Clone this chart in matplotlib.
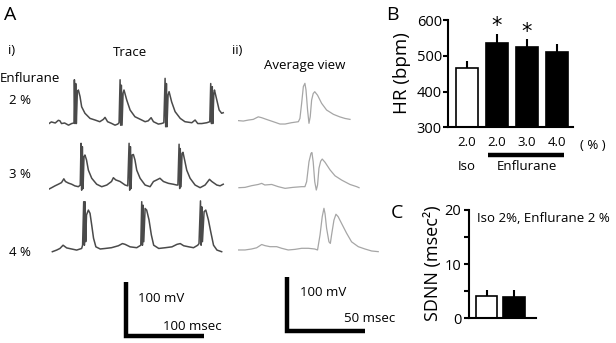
import numpy as np
import matplotlib
matplotlib.use("Agg")
import matplotlib.pyplot as plt
import matplotlib.transforms as mtransforms

plt.rcParams['font.family'] = ['Open Sans', 'DejaVu Sans']

# ---------------- data ----------------
# Panel A i) ECG traces: (time ms, voltage mV)
trace_2pct = [(0,-1),(3,2),(8,0),(12,5),(14,4),(16,-1),(20,0),(25,-4),(29,-1),(32,0),
              (32.5,80),(33.3,-1),(34.2,73),(35,-1),(36.3,58),(37.6,61),(39.7,49),(41.8,30),
              (46,18),(52.5,8.5),(59,5.5),(65,2.4),(69.6,6.7),(71.7,10.4),(75,2.4),(80,-0.7),
              (84.5,-4),(88,-2),(89.7,0.5),(91,80),(91.8,-4),(92.6,70),(93.5,-4),(94.8,55),
              (96,61),(99.5,42.5),(103.8,24),(110,11.6),(118.7,5.5),(123,2.4),(127,4),
              (130.7,9.8),(133.7,2.4),(140,-2),(144,-1),(147,0.5),(148.6,82.6),(149.4,-7),
              (150.3,73),(151,-7),(152.4,51.7),(153.7,58),(157,39),(161.4,21),(168,8.5),
              (174,2.4),(182.8,0.5),(187,5.5),(190.4,-1),(195.6,-1),(202,0.5),(205.8,2.4),
              (207,73),(208,-1),(209,67),(209.7,-1),(211,55),(211.8,61),(214.8,42.5),
              (217.8,24),(221,18),(223,19)]
trace_3pct = [(0,-2),(3.4,0.6),(7.7,4),(12,7),(16,10),(19,17),(21,12),(25,9),(29,7),(33,4),
              (37.6,2.4),(40,5.5),(41,82.7),(41.8,-4),(42.7,76.5),(43.6,-1),(44.8,58),(46,61),
              (48,52),(50.4,33),(54.7,18),(61,7),(67.5,2.4),(74,5.5),(80,12),(82.4,19),
              (85.4,15),(91,12),(97.4,5.5),(100.8,4),(102.5,82.7),(103.3,-4),(104.2,76.5),
              (105,-1),(106.3,61),(108,62),(110,52),(112.3,33),(116.6,18),(123,5.5),
              (129.4,2.4),(133.7,12),(138,15),(142,18),(146.5,12),(152.9,8.6),(159,7),
              (163.5,5.5),(165,5.5),(166.5,81),(167.3,-1),(168,73),(169,2.4),(170.3,64),
              (171.5,66),(174,49),(176.3,33),(180.6,18),(187,5.5),(193.4,0.6),(199.8,5.5),
              (205.4,16),(208.4,12),(214.8,5.5),(219,4),(223,7)]
trace_4pct = [(4.3,0),(9.8,3),(14,6),(18,12),(22.6,7),(29,5),(35.4,3),(41.8,6),(43,12),
              (44.4,92.5),(45.3,12),(46,92.5),(47,18.5),(48,68),(50.4,77),(52.5,71),(54.7,49),
              (57,25),(60,9),(65.6,5),(72,6),(80,7.4),(88.8,11),(94,15),(97.4,13.6),(103.8,9),
              (112.3,7.4),(117.5,12),(118.7,92.5),(119.6,12),(120.4,86),(121.3,18.5),(123,80),
              (125,77),(128,59),(131,31),(134,12),(140.5,6),(149,7.4),(157.4,9),(163.8,13.6),
              (168,15),(172.4,11),(179,9),(185,7.4),(190.4,12),(192,15),(193.9,94),(194.7,12),
              (195.6,83),(196.4,18.5),(198.5,74),(200.7,77),(204,59),(207,37),(210.6,12),
              (215,3),(221,0)]

# Panel A ii) averaged complexes: (time ms, voltage mV)
avg_2pct = [(0,2),(3.2,1.2),(6.4,3),(9.6,4.3),(12.8,9),(15,7.4),(18,4.3),(22.4,0),(26.7,-4.3),
            (30,-4.3),(34,-1.9),(38.5,0),(39.5,6),(40.6,34),(41.7,65),(42.7,71),(43.4,58.6),
            (44.4,21.6),(45.3,-3),(46.1,9),(47,40),(48,52),(49,55.5),(50.8,49),(53.4,34),
            (56.6,21.6),(61,13.6),(65,9),(68.4,6),(71.6,4.3)]
avg_3pct = [(0.4,0),(4.3,0.6),(8.5,3.7),(12.8,6),(15,8),(17,5),(21.4,6),(25.6,1.9),(30,-1.2),
            (35,0.6),(40.6,1.9),(42.7,1.9),(43.8,11),(45.3,48),(46.6,63.5),(47.2,65),(48,48),
            (49,11),(50,-4.3),(50.8,5),(51.7,36),(52.8,49),(53.8,53),(55.6,47),(58.8,33),
            (62,22),(66.3,14),(71.6,6),(75.9,1.9),(77.4,0)]
avg_4pct = [(0,1.9),(4.3,1.9),(8.5,3.7),(11.8,6),(15,12),(17,10),(20.3,8),(24.6,8),(27.8,5),
            (32,1.9),(36.3,3),(40.6,5),(44.9,5),(49,3.7),(50.8,1.9),(52.4,30),(53.8,63.5),
            (54.9,79),(55.6,69),(56.6,42),(58.1,17),(59,14),(59.8,30),(61.3,57),(62.6,68),
            (64,63.5),(66.2,51),(69.4,33),(72.6,17),(76.9,8),(81.2,3.7),(85.5,0),(89.7,-1.2)]

row_labels = ['2 %', '3 %', '4 %']

# Panel B: heart rate
hr_ticklabels = ['2.0', '2.0', '3.0', '4.0']
hr_mean = [465, 537, 525, 511]
hr_err = [21, 25, 21, 22]
hr_colors = ['white', 'black', 'black', 'black']
hr_sig = [False, True, True, False]

# Panel C: SDNN
sdnn_mean = [4.1, 3.8]
sdnn_err = [1.1, 1.3]
sdnn_colors = ['white', 'black']

# ---------------- layout ----------------
W, H = 616, 343
fig = plt.figure(figsize=(W / 100, H / 100), dpi=100)


def ax_px(left, top, width, height):
    return fig.add_axes([left / W, 1 - (top + height) / H, width / W, height / H])


def ftext(x, y, s, **kw):
    return fig.text(x / W, 1 - y / H, s, **kw)


MS_PX_TRACE = 1.28
MS_PX_AVG = 0.641
MV_PX = 1.85

trace_color = '#4a4a4a'
avg_color = '#a6a6a6'

for data, base in zip([trace_2pct, trace_3pct, trace_4pct], [123, 188, 251.7]):
    arr = np.array(data)
    ax = ax_px(49, base - 55, 180, 70)
    ax.plot(arr[:, 0], arr[:, 1], color=trace_color, lw=1.1)
    ax.set_xlim(0, 180 * MS_PX_TRACE)
    ax.set_ylim(-15 * MV_PX, 55 * MV_PX)
    ax.axis('off')

for data, base in zip([avg_2pct, avg_3pct, avg_4pct], [121.7, 187.7, 251]):
    arr = np.array(data)
    ax = ax_px(238.3, base - 55, 145, 70)
    ax.plot(arr[:, 0], arr[:, 1], color=avg_color, lw=0.9)
    ax.set_xlim(0, 145 * MS_PX_AVG)
    ax.set_ylim(-15 * MV_PX, 55 * MV_PX)
    ax.axis('off')

# scale bars
sb = ax_px(115, 270, 110, 75)
sb.set_xlim(0, 110 * MS_PX_TRACE)
sb.set_ylim(0, 75 * MV_PX)
t0, v0 = 10.5 * MS_PX_TRACE, 9 * MV_PX
sb.plot([t0, t0, t0 + 100], [v0 + 100, v0, v0], color='black', lw=3.2,
        solid_capstyle='butt', solid_joinstyle='miter')
sb.axis('off')

sb2 = ax_px(276, 270, 110, 75)
sb2.set_xlim(0, 110 * MS_PX_AVG)
sb2.set_ylim(0, 75 * MV_PX)
t0, v0 = 10.5 * MS_PX_AVG, 13.7 * MV_PX
sb2.plot([t0, t0, t0 + 50], [v0 + 100, v0, v0], color='black', lw=3.2,
         solid_capstyle='butt', solid_joinstyle='miter')
sb2.axis('off')

# panel A texts
fs = 9.5
ftext(4, 15, 'A', fontsize=14, ha='left', va='center')
ftext(8, 51, 'i)', fontsize=fs, ha='left', va='center')
ftext(130, 53, 'Trace', fontsize=fs, ha='center', va='center')
ftext(232, 51, 'ii)', fontsize=fs, ha='left', va='center')
ftext(305, 65, 'Average view', fontsize=fs, ha='center', va='center')
ftext(0, 78, 'Enflurane', fontsize=fs, ha='left', va='center')
for lab, y in zip(row_labels, [100, 175, 253]):
    ftext(20, y, lab, fontsize=fs, ha='center', va='center')
ftext(138, 298, '100 mV', fontsize=fs, ha='left', va='center')
ftext(222, 327, '100 msec', fontsize=fs, ha='right', va='center')
ftext(300, 293, '100 mV', fontsize=fs, ha='left', va='center')
ftext(344, 318, '50 msec', fontsize=fs, ha='left', va='center')

# ---------------- panel B ----------------
axB = ax_px(448, 20, 125, 107.3)
xB = np.arange(len(hr_mean))
axB.bar(xB, hr_mean, width=0.73, color=hr_colors, edgecolor='black', linewidth=1.2, zorder=2)
axB.errorbar(xB, hr_mean, yerr=[np.zeros(len(hr_err)), hr_err], fmt='none',
             ecolor='black', elinewidth=1.5, capsize=0, zorder=1)
for xi, m, e, s in zip(xB, hr_mean, hr_err, hr_sig):
    if s:
        axB.text(xi, m + e - 8, '*', fontsize=15, ha='center', va='bottom',
                 family='DejaVu Sans')
axB.set_xlim(-0.62, 3.53)
axB.set_ylim(300, 600)
axB.set_yticks([300, 400, 500, 600])
axB.tick_params(axis='y', labelsize=10.5, length=3.5, width=1.5, pad=1)
axB.set_xticks(xB)
axB.set_xticklabels(hr_ticklabels, fontsize=9.5)
axB.tick_params(axis='x', length=0, pad=6)
for sp in ['top', 'right']:
    axB.spines[sp].set_visible(False)
for sp in ['left', 'bottom']:
    axB.spines[sp].set_linewidth(1.5)
trB = mtransforms.blended_transform_factory(axB.transData, axB.transAxes)
axB.plot([0.70, 3.24], [-0.258, -0.258], color='black', lw=3.2, transform=trB,
         clip_on=False, solid_capstyle='butt')
axB.text(0, -0.367, 'Iso', transform=trB, ha='center', va='center', fontsize=9.5)
axB.text(1.99, -0.367, 'Enflurane', transform=trB, ha='center', va='center', fontsize=9.5)
ftext(593, 145, '( % )', fontsize=9.5, ha='center', va='center')
ftext(402, 73, 'HR (bpm)', fontsize=13.5, rotation=90, ha='center', va='center')
ftext(386, 15, 'B', fontsize=14, ha='left', va='center')

# ---------------- panel C ----------------
axC = ax_px(469, 210, 67, 108)
xC = np.arange(len(sdnn_mean))
axC.bar(xC, sdnn_mean, width=0.79, color=sdnn_colors, edgecolor='black', linewidth=1.2, zorder=2)
axC.errorbar(xC, sdnn_mean, yerr=[np.zeros(len(sdnn_err)), sdnn_err], fmt='none',
             ecolor='black', elinewidth=1.5, capsize=0, zorder=1)
axC.set_xlim(-0.64, 1.81)
axC.set_ylim(0, 20)
axC.set_yticks([0, 10, 20])
axC.set_yticks([5, 15], minor=True)
axC.set_xticks([])
axC.tick_params(axis='y', which='both', labelsize=10.5, length=3.5, width=1.5, pad=2)
for sp in ['top', 'right']:
    axC.spines[sp].set_visible(False)
for sp in ['left', 'bottom']:
    axC.spines[sp].set_linewidth(1.5)
ftext(477, 219, 'Iso 2%, Enflurane 2 %', fontsize=9.5, ha='left', va='center')
ftext(433, 263, 'SDNN (msec²)', fontsize=13, rotation=90, ha='center', va='center')
ftext(391, 213, 'C', fontsize=14, ha='left', va='center')

fig.savefig('out.png', dpi=100)
